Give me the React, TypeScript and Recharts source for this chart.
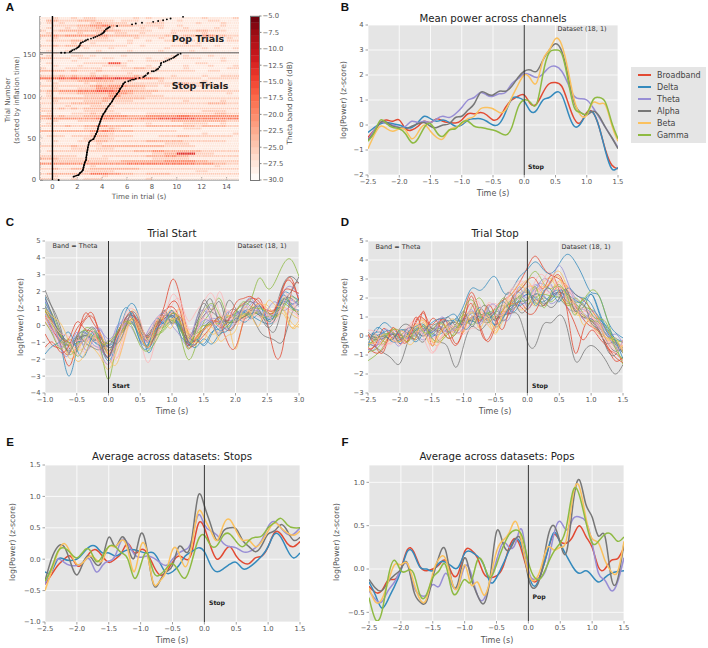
import {
  CartesianGrid,
  Legend,
  Line,
  LineChart,
  ReferenceLine,
  Scatter,
  ScatterChart,
  XAxis,
  YAxis,
} from "recharts";

// ggplot colour cycle
const RED = "#E24A33";
const BLUE = "#348ABD";
const PURPLE = "#988ED5";
const GRAY = "#777777";
const YELLOW = "#FBC15E";
const GREEN = "#8EBA42";
const PINK = "#FFB5B8";
const CYCLE = [RED, BLUE, PURPLE, GRAY, YELLOW, GREEN, PINK];

const BANDS = ["Broadband", "Delta", "Theta", "Alpha", "Beta", "Gamma"];
const BAND_COLORS = [RED, BLUE, PURPLE, GRAY, YELLOW, GREEN];

const T_BAND = [
  -2.5, -2.4, -2.3, -2.2, -2.1, -2.0, -1.9, -1.8, -1.7, -1.6, -1.5, -1.4, -1.3, -1.2,
  -1.1, -1.0, -0.9, -0.8, -0.7, -0.6, -0.5, -0.4, -0.3, -0.2, -0.1, 0, 0.1, 0.2, 0.3,
  0.4, 0.5, 0.6, 0.7, 0.8, 0.9, 1.0, 1.1, 1.2, 1.3, 1.4, 1.5,
];
const T_START = [
  -1, -0.875, -0.75, -0.625, -0.5, -0.375, -0.25, -0.125, 0, 0.125, 0.25, 0.375, 0.5,
  0.625, 0.75, 0.875, 1, 1.125, 1.25, 1.375, 1.5, 1.625, 1.75, 1.875, 2, 2.125, 2.25,
  2.375, 2.5, 2.625, 2.75, 2.875, 3,
];
const T_STOP = [
  -2.5, -2.375, -2.25, -2.125, -2, -1.875, -1.75, -1.625, -1.5, -1.375, -1.25, -1.125,
  -1, -0.875, -0.75, -0.625, -0.5, -0.375, -0.25, -0.125, 0, 0.125, 0.25, 0.375, 0.5,
  0.625, 0.75, 0.875, 1, 1.125, 1.25, 1.375, 1.5,
];

// Panel B: mean power across channels
const B_SERIES = [
  [-0.5,-0.2,0.1,0.2,0.15,0.2,-0.15,-0.2,-0.05,0.15,0.1,0.25,0.15,0.1,0.08,0.2,0.45,0.45,0.5,0.4,0.2,0.3,0.7,1.0,1.15,1.2,0.85,0.85,1.3,1.65,1.7,1.55,0.9,0.25,0.1,0.5,0.5,-0.1,-1.0,-1.6,-1.75],
  [-0.3,-0.1,0.05,0.1,0.05,0,-0.1,-0.1,0.1,0.35,0.25,0.15,0.2,0.1,-0.05,0,0.2,0.25,0.25,0.15,0,0.05,0.5,1.05,1.1,0.95,0.55,0.6,1.0,1.1,1.3,1.2,0.5,-0.05,0.05,0.45,0.5,-0.1,-1.05,-1.75,-1.7],
  [-0.6,-0.2,0.1,0.05,0,-0.1,-0.05,0.15,0.1,0.15,0.1,0.25,0.35,0.3,0.45,0.7,1.0,1.1,1.3,1.2,1.15,1.25,1.3,1.65,1.85,2.05,2.0,1.9,2.05,2.3,2.35,2.15,1.65,1.15,1.05,1.0,0.7,0.3,-0.1,-0.5,-0.9],
  [-0.6,-0.3,0.1,0.1,-0.05,-0.1,-0.15,-0.05,0.05,0.1,-0.05,-0.1,0,0.05,0.3,0.35,0.6,0.85,1.3,1.25,1.2,1.35,1.35,1.55,1.9,2.15,2.2,2.15,2.6,3.0,3.25,2.95,2.0,0.9,0.5,0.4,0.55,0.35,-0.1,-0.5,-0.95],
  [-0.95,-0.4,-0.05,-0.15,-0.25,-0.15,-0.2,-0.55,-0.3,0,-0.25,-0.5,-0.55,-0.2,-0.1,0.05,0.25,0.35,0.65,0.7,0.65,0.5,0.6,1.1,1.6,2.0,1.85,1.7,2.6,3.0,3.45,3.2,2.2,1.0,0.4,0.4,0.9,0.85,0.8,0,-0.65],
  [-0.65,-0.3,0.2,0.05,-0.1,-0.15,-0.35,-0.7,-0.55,-0.1,0.05,-0.3,-0.45,-0.2,-0.15,0.1,0.15,-0.05,-0.1,-0.15,-0.2,-0.3,-0.4,-0.1,0.7,1.0,0.9,0.85,2.05,2.9,3.0,2.85,1.8,0.7,0.5,0.45,1.0,1.1,0.9,0.1,-0.55],
];

// Panel E: average across datasets, stops
const E_SERIES = [
  [-0.4,-0.25,-0.1,0,0.05,-0.1,-0.05,0.1,0.15,0.05,-0.05,0,0.1,0.25,0.1,0.15,0.1,-0.1,-0.25,-0.2,-0.05,0.05,0,0.1,0.55,0.5,0.2,0,0.1,0.2,0.05,-0.05,-0.07,0.02,0.05,0.2,0.42,0.4,0.25,0.2,0.28],
  [-0.2,-0.2,0,0,-0.02,0,0.1,0.2,0.2,0.1,0.1,0.05,0.1,0.15,0.15,0.12,0.1,0.1,-0.05,-0.22,-0.2,-0.1,0.05,0.12,0.18,0.12,-0.1,-0.2,-0.15,-0.08,-0.05,-0.15,-0.13,-0.05,0.05,0.2,0.4,0.35,0.15,0.02,0.1],
  [-0.4,-0.15,0,-0.05,-0.1,-0.1,-0.05,0,-0.2,-0.1,-0.03,0.05,0.3,0.25,0.08,0.03,0.05,0.02,-0.05,-0.1,0,0.1,0.15,0.3,0.7,0.55,0.45,0.38,0.25,0.2,0.18,0.12,0.12,0.18,0.3,0.52,0.6,0.5,0.4,0.4,0.5],
  [-0.35,0,0.2,0.2,-0.05,-0.25,-0.05,0.05,-0.08,0,0.35,0.2,0.35,0.2,0.02,0.4,0.15,-0.4,-0.35,-0.2,-0.1,0.2,0.12,0.3,1.0,0.85,0.55,0.3,0.45,0.5,0.48,0.3,0.2,0.12,0.22,0.4,0.45,0.55,0.45,0.3,0.35],
  [-0.5,-0.2,0.1,0.25,0.1,-0.08,-0.05,0.05,0,-0.02,0.2,0.2,0.3,0.15,-0.2,0.2,0.12,-0.38,-0.35,-0.2,0.15,0.1,-0.12,0.2,0.75,0.65,0.45,0.3,0.55,0.63,0.45,0.3,0.3,0.2,0.28,0.45,0.58,0.5,0.42,0.38,0.45],
  [-0.35,-0.15,0.12,0.18,0.1,0.02,0.12,0.15,-0.03,0.05,0.2,0.2,0.1,0,-0.3,-0.1,0.1,-0.2,-0.25,-0.15,-0.07,-0.2,-0.3,-0.05,0.3,0.38,0.22,0.22,0.38,0.4,0.28,0.2,0.3,0.35,0.37,0.5,0.58,0.65,0.55,0.5,0.5],
];

// Panel F: average across datasets, pops
const F_SERIES = [
  [-0.2,-0.27,-0.25,-0.13,-0.12,0,0.22,0.2,0.03,-0.02,0,0.05,0.1,-0.05,-0.05,0.2,0.22,0.13,-0.05,-0.1,-0.08,0.02,0.25,0.35,0.2,-0.05,-0.15,-0.05,0.2,0.4,0.32,0.3,0.38,0.5,0.38,0.25,0.02,0,0.1,0.12,0.25],
  [-0.15,-0.3,-0.45,-0.35,-0.2,-0.02,0.2,0.18,0.02,0,-0.02,0.07,0.08,0.03,0.02,0.18,0.2,0.15,0.05,-0.15,-0.1,0.05,0.22,0.35,0.25,-0.05,-0.2,-0.05,0.2,0.42,0.3,0.15,0.02,-0.05,-0.02,-0.08,-0.15,-0.1,-0.05,-0.03,-0.02],
  [-0.25,-0.35,-0.38,-0.25,-0.15,0,0.05,-0.2,-0.3,-0.3,-0.18,-0.2,-0.05,-0.18,-0.2,0.03,-0.05,-0.3,-0.35,-0.15,0.1,0.3,0.25,0.3,0.45,0,-0.12,-0.1,0.05,0.4,0.55,0.45,0.58,0.6,0.55,0.3,-0.05,-0.13,-0.25,-0.15,0.13],
  [-0.12,-0.22,-0.25,-0.15,-0.07,0,0.07,-0.25,-0.38,-0.38,-0.1,0.15,0.22,-0.15,-0.15,0.13,-0.1,-0.3,-0.4,-0.1,0.43,0.3,0.22,0.35,0.3,-0.1,-0.22,-0.05,0.35,0.5,0.3,0.2,0.75,1.03,0.75,0.6,0.38,0.38,-0.1,-0.12,0.3],
  [-0.22,-0.38,-0.35,-0.15,0.05,0.05,0.07,-0.15,-0.35,-0.35,-0.05,0.12,0.12,-0.15,-0.2,0.05,-0.18,-0.15,-0.3,-0.12,0.2,0.33,0.42,0.55,0.3,-0.05,-0.13,0.02,0.25,0.22,0.25,0.35,0.85,0.95,0.6,0.35,0.3,0.1,-0.03,-0.03,0.32],
  [-0.33,-0.58,-0.5,-0.1,0.1,-0.02,-0.02,-0.05,-0.3,-0.3,-0.1,-0.02,0.05,-0.25,-0.25,-0.12,-0.15,0.1,0.05,-0.1,0.05,0.25,0.4,0.45,0.38,0.08,-0.1,-0.1,0.05,0.2,0.3,0.5,0.9,0.85,0.55,0.3,0.32,0.4,0.4,0.32,0.37],
];

// Panel C: single channels around trial start
const C_TRACES = [
  [-0.5,-1.2,-1.4,-1.7,-0.6,0.3,0.5,-0.5,-1.3,-0.9,-0.1,0.6,-0.2,-0.6,0.2,1.1,2.7,1.7,-0.4,-0.9,-0.3,0.1,0.2,-0.3,0.1,0.5,0.9,1.3,0.8,0.9,2.3,2.6,1.5],
  [1.7,0.4,-1.2,-3.0,-1.5,-0.6,-0.9,-1.3,-2.1,-1.0,0.6,1.3,0.2,-1.6,-0.6,0.2,0.6,-0.1,-1.1,-0.9,-1.1,-0.4,-0.2,0.3,0.7,0.9,0.6,0.3,0.1,0.4,1.5,1.2,0.6],
  [0.9,-0.3,-1.0,-1.4,-0.9,-1.1,-0.5,-1.5,-2.3,-1.2,-0.2,0.1,-0.5,-1.2,-0.3,0.2,0.3,-0.3,-0.6,-0.2,0.5,1.2,0.2,-0.2,0.2,0.7,1.3,1.2,0.5,0.8,1.6,1.1,0.7],
  [2.1,0.9,-0.4,-1.3,-1.5,-0.3,-0.9,-0.7,-1.5,-0.6,0.2,0.4,-0.6,-0.5,0.1,0.5,0.8,0.1,-1.2,0.2,1.3,0.4,-0.6,0.6,0.9,0.4,0.5,-0.3,-0.7,-0.9,-0.9,0.6,1.3],
  [0.8,0.2,-0.6,-1.9,-1.6,-0.9,-1.3,-1.9,-2.6,-1.6,-0.4,0.9,0.2,-1.1,-0.7,0.1,0.3,0.6,-0.3,-0.9,-0.5,-1.0,-0.6,0.2,-1.4,0.4,0.9,1.1,0.7,0.4,0.9,-0.1,0.1],
  [1.3,0.6,-0.6,-1.7,-1.2,-0.2,-0.3,-1.3,-3.2,-1.1,-0.3,0.2,-0.4,-0.9,-0.5,-0.2,0.4,-0.5,-2.0,-1.2,0.2,0.9,1.6,0.5,0.8,1.2,1.6,2.8,2.2,2.6,3.6,3.9,2.9],
  [0.2,-0.4,-1.1,-1.3,-1.0,-1.6,-1.2,-1.4,-1.1,-1.9,-0.9,0.3,-0.8,-2.2,-0.8,0.2,1.2,1.5,0.3,0.8,1.4,1.9,0.8,0.3,0.5,1.1,1.0,0.6,0.2,0.5,1.7,1.3,0.5],
  [0.6,-0.3,-1.2,-2.4,-1.0,0.7,0.2,-0.6,-1.7,-0.9,-0.2,0.4,-0.4,-0.9,-0.1,0.4,0.7,0.2,-1.1,-0.7,-0.2,0.2,0.1,-1.0,-1.3,0.2,1.1,1.6,0.2,-1.8,-1.2,1.9,2.5],
  [1.1,0.2,-0.7,-1.1,-0.6,-0.4,-0.9,-1.2,-1.2,-0.8,0.3,0.7,-0.1,-1.4,-0.3,0.3,0.6,0.0,-1.2,-0.8,-1.2,-0.5,0.1,0.3,0.3,0.8,1.0,1.1,0.7,0.9,1.9,1.8,1.5],
  [0.5,-0.5,-1.3,-0.9,-1.2,-0.7,-0.2,-0.3,-0.8,-0.3,0.4,0.1,-0.6,-1.0,-0.4,0.0,0.2,-0.2,-0.9,-0.3,0.1,0.4,0.3,0.1,0.6,0.8,0.7,0.9,0.4,0.6,1.2,1.5,1.1],
  [1.6,0.5,-0.9,-1.1,-0.8,-0.5,-0.1,-0.9,-1.6,-0.7,0.1,0.5,-0.2,-0.6,0.1,0.6,0.5,0.2,-0.7,0.1,1.0,1.5,0.2,1.4,1.0,0.6,0.9,0.7,0.3,1.0,2.4,2.9,2.5],
  [0.4,-0.1,-0.8,-1.0,-1.4,-1.3,-0.7,-1.0,-1.0,-0.4,0.2,0.5,-0.1,-0.7,0.0,0.5,0.9,0.3,-0.4,-0.7,0.0,-0.5,-0.2,0.1,0.3,0.6,0.5,1.0,1.2,0.6,0.7,-0.1,0.3],
  [1.0,0.2,-1.0,-0.8,-1.1,-0.6,-0.7,-1.1,-1.5,-0.9,-0.2,0.4,-0.2,-0.8,-0.6,-0.3,0.2,-0.1,-0.7,-0.5,-0.2,0.2,0.1,0.5,0.6,0.5,0.8,0.6,0.5,0.9,1.3,1.0,0.8],
  [0.3,-0.6,-1.3,-1.6,-1.3,-0.8,-1.0,-0.8,-1.4,-2.0,-0.5,0.2,-0.5,-0.4,0.3,0.4,0.3,1.0,-0.6,-0.3,0.4,0.6,2.0,0.6,0.2,0.4,0.7,1.3,0.9,1.1,2.0,1.4,0.8],
  [0.9,0.1,-0.7,-0.8,0.2,-0.2,-0.4,-1.2,-1.8,-0.7,0.1,0.6,0.0,-0.7,-0.1,0.8,1.1,0.3,-1.3,-0.8,-0.2,0.3,-0.1,0.2,0.9,1.3,1.6,1.4,0.8,0.9,2.2,2.8,1.4],
  [1.4,0.4,-0.8,-1.5,-1.0,-0.9,-0.4,-0.7,-1.3,-0.9,0.0,0.2,-0.9,-1.1,-0.2,0.2,0.5,-0.2,-0.9,-1.1,-0.2,0.2,-0.3,0.0,0.5,0.8,0.4,0.7,0.4,0.6,1.4,1.1,0.9],
  [0.7,-0.2,-0.9,-1.2,-0.7,-0.4,-1.1,-1.4,-1.9,-1.0,0.0,0.6,-0.4,-0.9,-0.3,0.3,0.6,0.1,-0.5,-0.4,0.3,0.2,0.2,0.3,0.7,0.9,1.4,0.8,0.6,0.7,1.9,2.3,1.7],
  [1.2,0.3,-0.5,-1.0,-0.9,-0.6,-0.8,-1.0,-1.2,-0.5,0.3,0.6,-0.3,-0.7,0.0,0.4,0.6,-0.1,-0.8,-0.2,0.6,0.8,0.4,0.2,0.2,0.5,0.7,0.6,-0.1,0.4,1.5,1.6,1.2],
  [0.6,0.0,-0.9,-1.5,-1.4,-0.8,-0.6,-1.2,-1.7,-1.2,-0.1,0.3,-0.5,-0.8,-0.4,0.1,0.4,0.2,-0.5,-0.8,-0.2,0.0,0.3,0.6,0.4,0.6,1.0,1.3,1.0,0.8,1.1,0.7,0.4],
  [0.9,0.0,-0.6,-1.2,-0.7,-0.3,-0.6,-0.8,-1.1,-0.7,-0.1,0.1,-0.7,-1.2,-0.3,-0.1,0.3,-0.2,-1.0,-0.5,0.0,0.1,0.5,0.2,0.4,0.7,0.6,0.8,0.3,0.6,1.6,1.2,0.6],
  [0.1,-0.3,-0.8,-1.1,-0.9,-0.9,-0.7,-1.1,-1.6,-0.8,0.1,0.5,-0.2,-0.9,-0.5,0.1,0.8,0.5,-0.2,0.0,0.5,1.0,0.6,0.4,0.5,0.9,0.8,0.5,0.6,0.7,1.0,0.9,0.5],
  [-1.3,-1.0,-1.6,-1.2,-0.2,0.4,0.7,-0.9,-1.9,-0.6,0.3,0.8,-0.5,-1.3,-0.4,0.6,1.4,0.9,-1.0,-1.1,-0.6,0.0,0.5,0.3,1.3,1.6,1.7,1.2,0.9,1.0,2.0,2.1,1.9],
  [-1.7,-1.2,-0.9,-0.4,-1.4,-1.8,-0.6,-1.0,-1.9,-0.4,1.0,0.5,-1.0,-1.2,0.4,0.1,0.9,-0.5,-1.0,-1.3,-0.8,-1.1,-0.5,-0.3,0.4,0.2,0.6,1.2,0.3,0.7,1.8,1.3,1.6],
  [1.5,0.3,-1.3,-1.7,-0.4,-1.4,-0.9,-0.2,-1.2,-0.1,0.1,-0.2,-1.0,-0.3,0.4,0.7,0.0,-0.6,-1.1,0.3,0.9,0.2,-0.4,0.8,0.4,1.1,1.6,0.7,0.9,1.4,0.9,1.2,1.4],
  [1.8,1.0,-0.2,-1.6,-0.7,-1.0,-1.3,-1.4,-0.9,-1.1,-0.3,0.8,0.1,-0.9,-0.5,0.9,0.1,0.5,-0.9,-0.3,1.5,0.9,1.4,-0.1,0.1,1.2,1.4,0.9,0.0,-0.3,1.2,2.0,2.9],
  [1.0,0.5,0.1,-1.0,-2.1,-1.7,-0.8,-0.5,-1.8,-2.3,-0.8,0.4,-0.4,-1.3,0.1,0.3,-0.1,1.0,-0.7,-1.0,-0.9,-0.1,-0.9,-0.6,-0.3,1.0,0.6,0.0,1.4,1.2,1.0,0.2,-0.1],
  [0.2,-0.6,-1.4,-1.0,-1.8,-1.1,-0.2,-1.0,-1.0,-0.5,0.2,-0.1,-1.2,-1.5,-0.9,0.0,0.7,0.2,-1.4,-0.2,0.8,1.3,0.6,-0.1,0.7,1.4,1.1,1.0,0.8,0.5,1.0,1.7,1.3],
  [0.5,0.1,-0.5,-0.7,-1.7,-1.2,-0.3,-1.7,-2.3,-1.4,0.5,1.0,0.3,-0.9,0.4,0.6,1.8,1.2,-0.1,-0.5,0.9,0.5,0.0,0.9,0.1,0.3,0.4,1.3,0.8,0.2,1.3,1.8,0.2],
];

// Panel D: single channels around trial stop
const D_TRACES = [
  [-0.9,-0.5,-0.2,0.3,-0.4,0.1,0.7,1.2,0.4,0.8,0.7,0.3,1.2,2.3,1.3,0.9,1.5,1.9,2.2,2.8,3.6,4.2,3.6,3.2,3.0,2.6,2.2,1.9,1.4,0.8,0.3,-0.3,-0.9],
  [-0.2,0.2,0.7,0.4,0.1,-0.1,0.3,0.4,0.2,0.6,0.8,0.9,1.6,2.5,2.4,2.8,3.1,2.3,2.4,3.1,3.5,3.9,3.5,3.3,3.8,4.3,3.9,3.1,2.3,2.1,0.9,0.2,-0.1],
  [0.0,-0.3,-0.4,0.1,-0.1,0.2,0.1,-0.2,0.3,0.5,0.2,0.4,0.9,1.3,1.0,1.1,0.8,1.2,1.6,2.0,2.2,2.7,2.4,2.9,3.7,2.9,2.0,1.6,1.2,0.7,0.2,-0.3,-0.6],
  [-0.4,-0.6,-0.9,-1.2,-1.45,-0.3,0.2,0.0,0.2,-0.3,-0.6,-1.65,-0.5,0.5,0.3,0.7,0.9,1.1,1.2,1.0,-0.3,-0.5,0.6,0.7,1.1,0.4,-1.3,-0.9,-0.5,-0.8,-1.4,-2.0,-1.5],
  [-0.3,-0.1,-0.4,0.4,0.0,-0.3,0.3,0.9,-0.2,-0.4,0.3,0.5,0.7,0.9,0.8,0.6,0.2,0.9,1.8,2.2,2.6,2.5,2.3,3.0,3.4,2.5,1.4,1.5,1.0,0.5,0.0,-0.4,-0.7],
  [-1.3,-1.0,-0.5,0.1,-0.2,0.0,-0.1,0.6,-0.1,-0.2,0.2,0.5,0.9,1.5,2.0,1.3,0.9,1.4,1.9,2.4,2.9,3.4,2.8,2.5,2.7,2.2,1.8,1.9,2.4,2.1,0.9,-0.4,-1.5],
  [0.1,-0.2,-0.5,-0.3,-0.1,0.5,0.9,0.7,-0.8,-0.2,0.1,0.2,0.2,0.7,0.9,1.4,1.7,1.3,1.5,2.8,2.3,2.9,3.2,2.6,2.8,2.5,2.0,1.6,1.1,0.6,0.3,-0.4,-0.5],
  [-0.6,-0.9,-0.6,0.1,-0.3,0.2,-0.1,1.3,-0.5,0.7,0.6,-0.4,0.6,2.1,0.5,-0.2,0.7,1.3,1.2,1.8,1.4,1.9,1.6,2.1,2.6,1.3,-0.9,0.3,0.8,0.3,-0.6,-0.9,-1.3],
  [0.0,0.2,0.1,-0.3,-0.2,0.1,0.3,0.5,0.0,0.3,0.5,0.8,0.8,1.2,1.0,0.9,0.6,1.0,1.5,1.9,2.2,2.0,1.8,2.2,2.4,2.0,1.7,1.5,2.2,1.3,0.4,-0.1,-0.3],
  [-0.5,-0.3,0.0,0.2,-0.2,-0.1,0.4,0.1,0.2,0.5,0.3,0.4,1.0,1.1,0.7,1.3,1.1,1.5,1.9,2.3,2.0,2.6,2.7,2.2,2.3,1.9,1.5,1.2,0.9,0.6,0.0,-0.5,-0.8],
  [-0.2,0.1,-0.3,-0.1,0.2,0.3,-0.2,0.4,0.4,0.2,0.6,0.7,0.6,0.9,1.2,0.8,1.3,1.1,1.7,2.1,2.3,1.8,1.6,2.1,2.3,2.1,1.6,1.1,0.8,0.2,-0.4,-0.3,-0.9],
  [0.1,-0.4,-0.2,0.3,0.3,0.2,0.5,0.8,0.3,0.6,0.4,0.3,1.1,1.2,1.4,1.0,0.1,1.3,2.0,2.5,2.9,2.4,2.8,3.0,2.2,1.7,1.3,1.0,0.7,0.2,-0.1,-0.6,-0.5],
  [-0.4,-0.2,0.1,0.0,-0.3,0.0,0.2,0.5,-0.1,-0.3,0.1,0.6,1.1,0.8,0.9,1.2,1.4,1.6,1.4,1.9,2.4,1.7,2.0,1.8,2.1,1.7,2.0,1.6,1.4,1.0,0.3,-0.2,-0.3],
  [-0.1,0.3,-0.1,-0.4,0.1,-0.2,0.6,0.3,-0.4,-0.1,0.3,0.2,0.1,0.4,0.6,1.7,1.5,1.7,2.4,2.9,2.7,2.6,2.2,2.4,2.6,1.9,1.2,1.3,1.1,0.6,-0.2,-0.7,-0.4],
  [-0.7,-0.4,0.4,-0.1,0.1,-0.3,0.8,0.9,0.6,0.9,0.2,-0.5,0.3,1.0,0.6,-0.3,0.5,1.4,1.7,1.6,1.2,1.3,2.2,2.9,3.2,2.3,1.6,0.9,0.5,0.2,-0.5,-1.1,-1.4],
  [-0.1,0.0,0.2,0.2,-0.4,0.2,0.5,0.6,0.1,0.1,0.4,0.9,0.7,0.8,0.7,1.2,0.5,1.0,1.6,1.6,1.9,2.2,2.1,1.9,2.4,2.2,1.9,1.8,2.2,1.2,0.2,-0.4,-0.9],
  [-0.3,-0.5,-0.1,0.1,0.1,-0.1,0.1,0.3,0.3,0.4,0.2,0.5,0.7,1.0,0.9,0.7,1.0,1.2,1.3,1.7,1.8,2.5,2.2,1.7,1.9,1.5,1.3,1.4,1.0,0.4,0.1,-0.6,-0.7],
  [0.0,-0.2,-0.1,0.1,0.0,0.4,0.3,0.0,0.5,0.7,0.8,0.4,0.9,0.8,1.1,1.1,1.2,0.8,1.4,1.8,1.9,2.1,1.7,2.0,2.2,1.8,1.4,1.0,0.9,0.5,-0.3,-0.8,-0.6],
  [-0.2,0.0,-0.3,-0.1,0.2,-0.4,-0.1,0.7,-0.3,0.2,0.5,0.3,0.6,1.0,1.3,0.9,0.5,1.1,1.7,1.4,1.6,2.3,2.6,2.5,2.9,2.4,1.2,1.1,0.6,0.1,-0.1,-0.3,-0.6],
  [-0.6,-0.1,0.0,0.2,-0.1,0.1,0.0,0.4,0.1,0.4,-0.1,0.3,0.8,0.6,1.0,1.2,1.0,1.4,1.8,2.0,1.7,2.0,2.2,2.1,2.0,1.6,1.7,1.2,0.8,0.7,0.0,-0.2,-0.8],
  [0.0,-0.4,-0.2,0.2,0.3,0.0,0.2,0.1,-0.2,0.3,0.4,0.6,0.3,0.8,1.1,1.0,1.3,1.6,2.0,1.5,1.8,2.4,2.5,2.3,2.6,2.1,1.6,1.4,1.0,0.5,-0.2,-0.5,-0.7],
  [0.1,-0.6,-0.8,0.4,-0.1,-0.2,1.0,0.3,0.9,0.5,-0.1,0.1,0.9,1.7,0.8,1.6,1.0,0.4,1.9,2.4,2.9,3.0,2.5,3.2,2.4,1.5,0.6,-0.2,0.3,-0.1,-0.6,-1.3,-1.1],
  [-0.5,0.4,0.2,-0.2,0.3,0.1,-0.3,0.2,0.7,0.9,1.0,1.1,0.4,0.7,1.5,1.0,1.3,1.8,1.3,1.7,2.5,1.6,2.3,2.4,1.8,2.5,2.2,2.0,1.7,0.9,0.5,-0.2,-1.2],
  [-0.7,-0.6,0.3,0.0,-0.5,0.4,0.0,0.4,-0.1,0.9,0.7,0.2,0.5,1.4,0.6,1.4,1.6,0.9,1.2,2.6,1.5,2.3,3.0,2.7,2.0,2.3,1.8,0.9,1.3,0.9,0.0,0.1,-0.4],
  [0.2,-0.1,0.0,-0.2,0.4,0.6,0.1,-0.3,0.4,0.3,1.0,0.6,1.3,0.5,1.3,1.5,0.8,1.9,2.2,1.3,1.5,2.2,1.9,1.5,2.0,2.4,1.3,1.7,0.7,0.3,-0.7,-1.0,-0.2],
  [-0.4,-0.3,0.1,-0.2,-0.3,0.0,0.6,0.2,-0.5,0.1,0.7,0.8,0.2,1.3,0.4,1.1,0.3,1.5,2.2,2.7,2.2,1.6,2.5,2.8,3.1,1.9,1.7,0.6,1.1,0.8,-0.2,-0.1,-0.9],
  [-0.8,-0.7,-0.2,0.3,0.2,-0.3,0.4,0.2,0.3,0.7,0.3,0.1,1.3,1.9,1.2,0.7,1.2,2.0,1.6,2.1,1.9,2.6,1.5,2.3,2.6,2.1,1.1,2.0,1.2,0.9,0.6,-0.6,-1.2],
  [0.3,0.1,-0.6,0.0,-0.5,0.3,0.7,-0.1,-0.9,-0.3,0.5,0.4,0.6,1.6,1.7,0.6,1.1,1.2,2.5,1.9,2.6,2.1,2.9,3.3,2.5,2.7,1.5,1.2,0.6,0.0,-0.3,-0.9,-0.2],
];

// Panel A: theta power per block of 3 trials (top row first), one digit per 0.5 s, dB = -30 + 2.4 * digit
const HEAT_ROWS = [
  "11211212211111121211111111211112",
  "13322233322212221112112111122111",
  "12121111232222111222111112111211",
  "11222233445433322222112111111211",
  "12112122232211112112111211112111",
  "21233333334332222211122223322211",
  "12111121121122112111121111211111",
  "33434444444333332222322333443322",
  "11211111122111121112111111211121",
  "12222332222211211211222221222122",
  "11111211211111211111111212111111",
  "22323332222222112111122222112111",
  "11111112111211111111211111211112",
  "12112111121111211112111121111111",
  "11211111111111111111111111111111",
  "12111221211112111111121211121111",
  "33222122112211111211221222111211",
  "11111211111111211222211111111211",
  "12111112222662111111111112211111",
  "11211121112222111211111211121112",
  "21112222221112233221111211111122",
  "33332322232222222222222221122111",
  "11111111211111211211111111111111",
  "22232322323222232111121111211222",
  "55565656676676665543222222122222",
  "12122233333322211112111111211111",
  "11211112122222222222223322221111",
  "22222222343444333221212222222211",
  "11211122244442222111112111111111",
  "23344455566654433332222222222222",
  "12122233333444322211111111111121",
  "12111112222442222222111111111111",
  "22333333334433333222222222222222",
  "11211112223222211111111211111211",
  "22222333332222222222222222233322",
  "11112111222211111111111111111111",
  "22232323333222222222222222222222",
  "22111112222211111111111111222211",
  "12111222322221111222222222223322",
  "33232223334444333444445544444444",
  "34444444455544445556666665555555",
  "11211122222222222222233333333322",
  "12111111111111111211111222211211",
  "22223223344333322333333332333322",
  "11111112222321111111111222111111",
  "33333333445433322222221111111111",
  "11111111222211111111111111211112",
  "12221222333222211112223322222221",
  "11111112222211111111111111111111",
  "11211122233222222333333222222211",
  "11111111121111111111222211111111",
  "22222322223333333333222221111111",
  "11111222122211111111111111111111",
  "12222222222222233344333333222222",
  "11111111111111111122337772221111",
  "22222211112222222333443322222222",
  "33322222222111111122222211111111",
  "11222223222223333333444443322222",
  "44444444444444555555555554443322",
  "11111111211111111111111111112111",
  "22322332333333332222222222222222",
  "11111112222211111111111112211111",
  "23333333555443322333322222222222",
  "11211111112111111111111111111111",
  "22211212221111111211111111111111",
];

// Panel A: inflation end per trial; the steep part of the stop trials reads as a solid curve
const RUN_TRIALS = [4,6,8,10,12,15,18,21,24,27,30,33,36,39,42,45,47,49,52,55,58,61,64,67,70,73,76,79,82,85,88,91,94,97,100,103,106,109,112,115,117];
const RUN_TIMES = [1.7,2.1,2.2,2.35,2.45,2.5,2.55,2.6,2.7,2.72,2.75,2.78,2.82,2.85,2.9,2.95,3.05,3.3,3.4,3.5,3.6,3.65,3.7,3.78,3.85,3.92,4.0,4.1,4.25,4.35,4.5,4.65,4.8,4.9,5.05,5.2,5.35,5.45,5.6,5.7,5.85];
const STOP_TRIALS = [0,118,119,120,120,121,122,123,124,125,127,128,130,130,131,132,133,135,137,139,140,141,142,143,144,145,146,147,148,149,150,151];
const STOP_TIMES = [0.5,6.1,6.25,6.4,6.55,6.7,7.0,7.3,7.4,7.5,7.65,7.7,8.0,8.15,8.3,8.4,8.5,8.6,8.7,8.72,8.75,8.95,9.1,9.25,9.4,9.55,9.7,9.8,9.9,10.0,10.1,10.3];
const POP_TRIALS = [152,152,153,154,155,156,157,158,159,160,161,163,164,165,166,167,168,169,170,171,172,173,174,175,176,177,178,180,181,182,183,184,186,187,188,189,190,191,192,193,195];
const POP_TIMES = [0.7,1.0,1.4,1.5,1.6,1.75,1.9,2.0,2.1,2.15,2.2,2.25,2.3,2.45,2.6,2.7,2.85,3.1,3.3,3.45,3.6,3.75,3.9,4.0,4.1,4.15,4.2,4.3,4.4,4.5,4.6,5.2,6.4,6.7,7.2,8.1,8.5,8.9,9.2,9.5,10.5];

const BOUNDARY_TRIAL = 152;

const COLORBAR_DB = [-29.5,-28.5,-27.5,-26.5,-25.5,-24.5,-23.5,-22.5,-21.5,-20.5,-19.5,-18.5,-17.5,-16.5,-15.5,-14.5,-13.5,-12.5,-11.5,-10.5,-9.5,-8.5,-7.5,-6.5,-5.5];

const REDS = ["#ffffff", "#fee0d2", "#fcbba1", "#fc9272", "#fb6a4a", "#ef3b2c", "#cb181d", "#a50f15", "#67000d"];

function redsColor(db: number) {
  const t = Math.min(1, Math.max(0, (db + 30) / 25)) * (REDS.length - 1);
  const i = Math.min(REDS.length - 2, Math.floor(t));
  const a = REDS[i];
  const b = REDS[i + 1];
  const mix = (s: number) => {
    const p = parseInt(a.slice(s, s + 2), 16);
    const q = parseInt(b.slice(s, s + 2), 16);
    return Math.round(p + (q - p) * (t - i));
  };
  return `rgb(${mix(1)},${mix(3)},${mix(5)})`;
}

const fmt = (v: number) => String(v).replace("-", "\u2212");
const fmt1 = (v: number) => fmt(v).replace(/^(\u2212?\d+)$/, "$1.0");

const FONT = "'DejaVu Sans', sans-serif";
const LETTER_FONT = "'Liberation Sans', sans-serif";
const PAD = 30;
const YW = 28;
const XH = 20;
const TICK_SIZE = 6.8;

function Txt({ x, y, size = 7, color = "#555", bold = false, rot = 0, font = FONT, children }: any) {
  return (
    <div
      style={{
        position: "absolute",
        left: x,
        top: y,
        transform: `translate(-50%,-50%) rotate(${rot}deg)`,
        fontSize: size,
        fontFamily: font,
        fontWeight: bold ? 700 : 400,
        color,
        whiteSpace: "nowrap",
        lineHeight: 1,
      }}
    >
      {children}
    </div>
  );
}

function LegendBox() {
  return (
    <div style={{ background: "#E5E5E5", width: 75, height: 76, paddingTop: 2, boxSizing: "border-box" }}>
      {BANDS.map((name, k) => (
        <div key={name} style={{ display: "flex", alignItems: "center", height: 12, fontFamily: FONT, fontSize: 8, color: "#444" }}>
          <span style={{ width: 13, height: 2, marginLeft: 7, marginRight: 6, background: BAND_COLORS[k] }} />
          {name}
        </div>
      ))}
    </div>
  );
}

function rowsFrom(times: number[], series: number[][]) {
  return times.map((t, i) => {
    const row: Record<string, number> = { t };
    series.forEach((s, k) => {
      row[`s${k}`] = s[i];
    });
    return row;
  });
}

function LinePanel({ box, xDomain, times, xMarks, yDomain, yTicks, series, colors, names, width, legend = false }: any) {
  const [x0, x1, y0, y1] = box;
  const extra = legend ? 90 : 0;
  const w = x1 - x0;
  const h = y1 - y0;
  const data = rowsFrom(times, series);
  const tickStyle = { fontSize: TICK_SIZE, fill: "#555", fontFamily: FONT };
  const tickLine = { stroke: "#888", strokeWidth: 0.8 };
  return (
    <div style={{ position: "absolute", left: x0 - PAD, top: y0 - PAD }}>
      <LineChart
        width={w + 2 * PAD + extra}
        height={h + 2 * PAD}
        data={data}
        margin={{ left: PAD - YW, right: PAD + extra, top: PAD, bottom: PAD - XH }}
      >
        <CartesianGrid fill="#E5E5E5" stroke="#ffffff" strokeWidth={0.8} />
        <XAxis dataKey="t" type="number" domain={xDomain} ticks={xMarks} height={XH} tick={tickStyle} tickFormatter={fmt1} tickLine={tickLine} tickSize={2.5} tickMargin={2} axisLine={false} interval={0} allowDataOverflow />
        <XAxis xAxisId="top" orientation="top" dataKey="t" type="number" domain={xDomain} ticks={xMarks} height={0} tick={false} tickLine={tickLine} tickSize={2} axisLine={false} allowDataOverflow />
        <YAxis type="number" domain={yDomain} ticks={yTicks} width={YW} tick={tickStyle} tickFormatter={yTicks.some((v: number) => !Number.isInteger(v)) ? fmt1 : fmt} tickLine={tickLine} tickSize={2.5} tickMargin={2} axisLine={false} interval={0} allowDataOverflow />
        <YAxis yAxisId="right" orientation="right" type="number" domain={yDomain} ticks={yTicks} width={0} tick={false} tickLine={tickLine} tickSize={2} axisLine={false} allowDataOverflow />
        {series.map((_: number[], k: number) => (
          <Line
            key={k}
            dataKey={`s${k}`}
            name={names ? names[k] : `s${k}`}
            type="natural"
            stroke={colors[k % colors.length]}
            strokeWidth={width}
            dot={false}
            isAnimationActive={false}
          />
        ))}
        <ReferenceLine x={0} stroke="#333" strokeWidth={1} />
        {legend && (
          <Legend
            layout="vertical"
            align="center"
            verticalAlign="middle"
            wrapperStyle={{ left: 631 - (x0 - PAD), top: 67 - (y0 - PAD), width: 75, bottom: "auto", right: "auto" }}
            content={<LegendBox />}
          />
        )}
      </LineChart>
    </div>
  );
}

const heatCells = HEAT_ROWS.flatMap((row, r) =>
  row.split("").map((d, c) => ({ x: -1 + 0.5 * c + 0.25, y: 195 - 3 * r - 1.5, db: -30 + 2.4 * Number(d), row: r }))
);
const runPoints = RUN_TIMES.map((x, i) => ({ x, y: RUN_TRIALS[i] }));
const stopPoints = STOP_TIMES.map((x, i) => ({ x, y: STOP_TRIALS[i] }));
const popPoints = POP_TIMES.map((x, i) => ({ x, y: POP_TRIALS[i] }));
const colorbarCells = COLORBAR_DB.map((y) => ({ x: 0, y }));
const eventLine = [{ x: 0, y: 0 }, { x: 0, y: 196 }];
const boundaryLine = [{ x: -1, y: BOUNDARY_TRIAL }, { x: 15, y: BOUNDARY_TRIAL }];

const HEAT_W = 199 * (0.5 / 16);
const HEAT_H = 164 * (3 / 196);

// dashed strips give the stippled look of the single-trial image, shifted per row so no columns show
function HeatCell({ cx, cy, payload }: any) {
  return (
    <line
      x1={cx - HEAT_W / 2}
      x2={cx + HEAT_W / 2}
      y1={cy}
      y2={cy}
      stroke={redsColor(payload.db)}
      strokeWidth={HEAT_H * 0.85}
      strokeDasharray="1.7 0.4"
      strokeDashoffset={payload.row * 0.7}
    />
  );
}

function BarCell({ cx, cy, payload }: any) {
  return <rect x={cx - 4.5} y={cy - 3.4} width={9} height={6.9} fill={redsColor(payload.y)} />;
}

function Dot({ cx, cy }: any) {
  return <circle cx={cx} cy={cy} r={0.95} fill="#000" />;
}

const NoMark = () => null;

function HeatPanel() {
  const tickStyle = { fontSize: TICK_SIZE, fill: "#555", fontFamily: FONT };
  const frame = { stroke: "#777", strokeWidth: 1.2 };
  const inner = { stroke: "#666", strokeWidth: 0.8 };
  const xMarks = [0, 2, 4, 6, 8, 10, 12, 14];
  const yMarks = [0, 50, 100, 150];
  return (
    <div style={{ position: "absolute", left: 40 - PAD, top: 16 - PAD + 10 }}>
      <ScatterChart width={199 + 2 * PAD} height={164 + 2 * PAD - 10} margin={{ left: PAD - YW, right: PAD, top: PAD - 10, bottom: PAD - XH }}>
        <XAxis dataKey="x" type="number" domain={[-1, 15]} ticks={xMarks} height={XH} tick={tickStyle} tickLine={inner} axisLine={frame} tickSize={-3} tickMargin={7} interval={0} />
        <XAxis xAxisId="top" orientation="top" dataKey="x" type="number" domain={[-1, 15]} ticks={xMarks} height={0} tick={false} tickLine={inner} axisLine={frame} tickSize={-3} />
        <YAxis dataKey="y" type="number" domain={[0, 196]} ticks={yMarks} width={YW} tick={tickStyle} tickLine={inner} axisLine={frame} tickSize={-3} tickMargin={7} interval={0} />
        <YAxis yAxisId="right" orientation="right" dataKey="y" type="number" domain={[0, 196]} ticks={yMarks} width={0} tick={false} tickLine={inner} axisLine={frame} tickSize={-3} />
        <Scatter data={heatCells} shape={<HeatCell />} isAnimationActive={false} />
        <Scatter data={boundaryLine} line={{ stroke: "#555", strokeWidth: 1 }} shape={<NoMark />} isAnimationActive={false} />
        <Scatter data={eventLine} line={{ stroke: "#000", strokeWidth: 1.4 }} shape={<NoMark />} isAnimationActive={false} />
        <Scatter data={runPoints} line={{ stroke: "#000", strokeWidth: 1.3 }} shape={<Dot />} isAnimationActive={false} />
        <Scatter data={stopPoints} shape={<Dot />} isAnimationActive={false} />
        <Scatter data={popPoints} shape={<Dot />} isAnimationActive={false} />
      </ScatterChart>
    </div>
  );
}

function ColorbarPanel() {
  const marks = [-30, -27.5, -25, -22.5, -20, -17.5, -15, -12.5, -10, -7.5, -5];
  return (
    <div style={{ position: "absolute", left: 250, top: 0 }}>
      <ScatterChart width={60} height={196} margin={{ left: 0, right: 0, top: 16, bottom: 16 }}>
        <XAxis dataKey="x" type="number" domain={[-1, 1]} hide />
        <YAxis
          dataKey="y"
          type="number"
          orientation="right"
          domain={[-30, -5]}
          ticks={marks}
          width={51}
          tick={{ fontSize: TICK_SIZE, fill: "#555", fontFamily: FONT }}
          tickFormatter={fmt1}
          tickLine={{ stroke: "#666", strokeWidth: 0.8 }}
          tickSize={2.5}
          tickMargin={1}
          axisLine={false}
          interval={0}
        />
        <Scatter data={colorbarCells} shape={<BarCell />} isAnimationActive={false} />
      </ScatterChart>
      <div style={{ position: "absolute", left: 0, top: 16, width: 8, height: 163, border: "0.8px solid #777" }} />
    </div>
  );
}

const X_MARKS_STOP = [-2.5, -2, -1.5, -1, -0.5, 0, 0.5, 1, 1.5];
const X_MARKS_START = [-1, -0.5, 0, 0.5, 1, 1.5, 2, 2.5, 3];

export default function App() {
  return (
    <div style={{ position: "absolute", left: 0, top: 0, width: 708, height: 648, background: "#fff", overflow: "hidden" }}>
      {/* A */}
      <HeatPanel />
      <ColorbarPanel />
      <Txt x={198} y={39} size={9.5} bold color="#222">Pop Trials</Txt>
      <Txt x={200} y={86} size={9.5} bold color="#222">Stop Trials</Txt>
      <Txt x={139} y={197} size={7.2}>Time in trial (s)</Txt>
      <Txt x={8} y={100} size={7} rot={-90}>Trial Number</Txt>
      <Txt x={17} y={100} size={7} rot={-90}>(sorted by inflation time)</Txt>
      <Txt x={290} y={103} size={7.2} rot={-90}>Theta band power (dB)</Txt>

      {/* B */}
      <LinePanel
        box={[368, 618, 25, 175]}
        xDomain={[-2.5, 1.5]}
        times={T_BAND}
        xMarks={X_MARKS_STOP}
        yDomain={[-2, 4]}
        yTicks={[-2, -1, 0, 1, 2, 3, 4]}
        series={B_SERIES}
        colors={BAND_COLORS}
        names={BANDS}
        width={1.5}
        legend
      />
      <Txt x={493} y={19} size={10.2} color="#222">Mean power across channels</Txt>
      <Txt x={493} y={194} size={8}>Time (s)</Txt>
      <Txt x={344} y={100} size={7.8} rot={-90}>log(Power) (z-score)</Txt>
      <Txt x={582} y={29} size={6.5} color="#333">Dataset (18, 1)</Txt>
      <Txt x={536} y={167} size={6.2} bold color="#222">Stop</Txt>

      {/* C */}
      <LinePanel
        box={[45, 299, 241, 393]}
        xDomain={[-1, 3]}
        times={T_START}
        xMarks={X_MARKS_START}
        yDomain={[-4, 5]}
        yTicks={[-4, -3, -2, -1, 0, 1, 2, 3, 4, 5]}
        series={C_TRACES}
        colors={CYCLE}
        width={0.8}
      />
      <Txt x={172} y={234} size={10.2} color="#222">Trial Start</Txt>
      <Txt x={172} y={412} size={8}>Time (s)</Txt>
      <Txt x={21} y={317} size={7.8} rot={-90}>log(Power) (z-score)</Txt>
      <Txt x={75} y={246} size={6.5} color="#333">Band = Theta</Txt>
      <Txt x={262} y={246} size={6.5} color="#333">Dataset (18, 1)</Txt>
      <Txt x={121} y={386} size={6.2} bold color="#222">Start</Txt>

      {/* D */}
      <LinePanel
        box={[368, 623, 241, 393]}
        xDomain={[-2.5, 1.5]}
        times={T_STOP}
        xMarks={X_MARKS_STOP}
        yDomain={[-3, 5]}
        yTicks={[-3, -2, -1, 0, 1, 2, 3, 4, 5]}
        series={D_TRACES}
        colors={CYCLE}
        width={0.8}
      />
      <Txt x={495} y={234} size={10.2} color="#222">Trial Stop</Txt>
      <Txt x={495} y={412} size={8}>Time (s)</Txt>
      <Txt x={345} y={317} size={7.8} rot={-90}>log(Power) (z-score)</Txt>
      <Txt x={398} y={247} size={6.5} color="#333">Band = Theta</Txt>
      <Txt x={586} y={247} size={6.5} color="#333">Dataset (18, 1)</Txt>
      <Txt x={540} y={386} size={6.2} bold color="#222">Stop</Txt>

      {/* E */}
      <LinePanel
        box={[45, 300, 465, 622]}
        xDomain={[-2.5, 1.5]}
        times={T_BAND}
        xMarks={X_MARKS_STOP}
        yDomain={[-1, 1.5]}
        yTicks={[-1, -0.5, 0, 0.5, 1, 1.5]}
        series={E_SERIES}
        colors={BAND_COLORS}
        names={BANDS}
        width={1.5}
      />
      <Txt x={172} y={457} size={10.2} color="#222">Average across datasets: Stops</Txt>
      <Txt x={172} y={641} size={8}>Time (s)</Txt>
      <Txt x={13} y={542} size={7.8} rot={-90}>log(Power) (z-score)</Txt>
      <Txt x={217} y={603} size={6.2} bold color="#222">Stop</Txt>

      {/* F */}
      <LinePanel
        box={[369, 624, 465, 621]}
        xDomain={[-2.5, 1.5]}
        times={T_BAND}
        xMarks={X_MARKS_STOP}
        yDomain={[-0.6, 1.2]}
        yTicks={[-0.5, 0, 0.5, 1]}
        series={F_SERIES}
        colors={BAND_COLORS}
        names={BANDS}
        width={1.5}
      />
      <Txt x={497} y={457} size={10.2} color="#222">Average across datasets: Pops</Txt>
      <Txt x={497} y={641} size={8}>Time (s)</Txt>
      <Txt x={337} y={542} size={7.8} rot={-90}>log(Power) (z-score)</Txt>
      <Txt x={539} y={597} size={6.2} bold color="#222">Pop</Txt>

      {/* panel letters */}
      <Txt x={10} y={8} size={11.5} bold color="#111" font={LETTER_FONT}>A</Txt>
      <Txt x={345} y={8} size={11.5} bold color="#111" font={LETTER_FONT}>B</Txt>
      <Txt x={10} y={223} size={11.5} bold color="#111" font={LETTER_FONT}>C</Txt>
      <Txt x={345} y={223} size={11.5} bold color="#111" font={LETTER_FONT}>D</Txt>
      <Txt x={10} y={443} size={11.5} bold color="#111" font={LETTER_FONT}>E</Txt>
      <Txt x={345} y={443} size={11.5} bold color="#111" font={LETTER_FONT}>F</Txt>
    </div>
  );
}
